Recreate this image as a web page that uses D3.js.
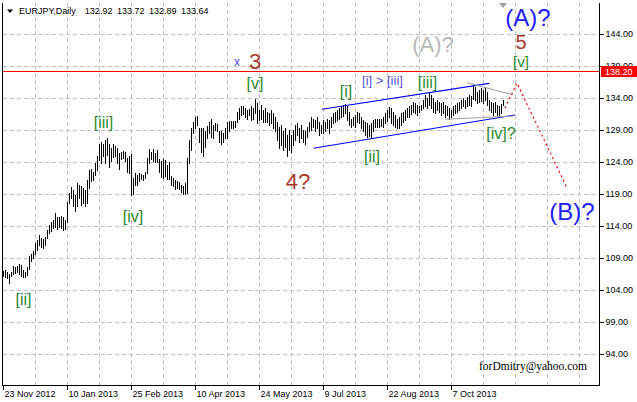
<!DOCTYPE html>
<html><head><meta charset="utf-8">
<script src="https://cdn.jsdelivr.net/npm/d3@7/dist/d3.min.js"></script>
<style>
body{margin:0;background:#fff}
svg{display:block}
text{font-family:"Liberation Sans",Arial,sans-serif}
</style>
</head><body>
<svg id="chart" width="637" height="402"></svg>
<script>
// ---------- DATA ----------
const symbolTitle = "EURJPY,Daily";
const lastOHLC = [132.92, 133.72, 132.89, 133.64];
const resistanceLevel = 138.20;

const barHighs = [
107.0,107.2,106.9,106.6,106.9,107.8,107.7,107.8,108.1,108.0,
107.2,106.9,107.7,109.3,109.7,110.1,111.4,111.9,112.6,112.1,
112.0,112.3,113.4,114.2,114.7,114.9,116.0,115.4,115.5,115.6,
115.4,115.0,117.8,119.2,120.1,119.7,118.8,120.7,120.4,120.2,
119.9,119.7,121.2,122.8,122.9,122.5,123.8,124.9,126.9,127.2,
126.9,127.5,127.7,126.9,126.2,126.9,126.5,126.2,125.4,125.6,
125.8,125.6,124.6,124.9,125.2,121.5,122.3,122.0,122.3,122.1,
122.0,122.4,124.7,126.1,125.6,126.1,125.4,125.9,124.5,124.2,
124.5,124.3,123.6,124.0,121.9,121.6,121.2,121.1,120.9,120.4,
120.2,120.7,124.7,127.5,129.4,130.3,131.1,131.2,129.4,129.3,
129.4,128.8,129.7,130.3,130.7,129.8,130.1,129.9,128.8,128.8,
128.5,129.4,130.3,130.4,130.5,130.4,130.4,131.8,132.4,132.7,
132.8,132.4,132.1,132.3,132.7,132.4,133.9,133.2,132.1,132.9,
132.1,132.4,131.9,131.6,132.1,131.6,131.1,130.3,129.5,129.8,
128.8,129.3,128.2,129.0,128.2,129.0,129.8,130.1,129.3,129.8,
129.0,128.8,129.5,130.3,131.1,130.8,130.6,131.1,130.3,129.8,
130.6,130.3,130.8,130.6,131.1,131.6,131.9,132.1,132.4,132.7,
132.9,133.1,132.7,131.9,130.8,131.1,131.4,131.9,131.6,131.1,
130.6,130.3,130.1,129.8,130.1,130.6,130.8,130.7,130.8,130.7,
131.1,131.6,132.2,132.6,132.4,131.9,131.4,130.8,131.1,131.6,
131.9,132.1,132.4,132.7,132.9,133.4,133.2,132.9,132.7,132.9,
133.7,134.5,134.0,135.0,134.5,134.0,133.4,133.7,133.4,133.2,
133.4,132.9,132.7,132.4,132.1,132.7,132.9,133.2,133.4,133.7,
134.0,133.7,134.2,134.5,134.4,136.0,135.8,135.0,135.3,135.5,
135.3,135.8,135.0,133.7,133.4,133.2,133.4,132.9,132.7,133.1,
133.72];

const barLows = [
106.3,106.1,105.9,105.2,106.2,106.6,106.7,106.9,106.6,106.3,
106.1,106.0,106.4,107.3,108.6,109.0,109.7,110.3,111.1,110.7,
110.6,111.1,112.1,112.9,113.2,113.7,113.9,113.5,113.8,113.7,
113.4,113.5,114.7,117.6,118.4,117.2,116.4,117.1,118.4,117.3,
117.6,117.2,117.7,119.9,121.0,121.2,122.0,122.8,124.3,123.8,
124.9,123.9,125.1,123.3,124.2,124.8,124.9,123.8,123.0,124.5,
124.6,124.2,122.5,122.3,118.8,119.0,120.5,120.4,121.0,121.4,
121.2,121.6,122.3,123.8,124.5,124.2,124.0,124.1,122.5,121.7,
121.5,121.9,121.4,121.4,120.4,120.2,119.8,119.9,119.8,119.4,
119.1,119.0,119.2,123.8,125.9,128.5,129.4,129.8,127.2,125.6,
124.9,126.4,127.7,128.5,128.0,127.8,129.0,128.8,127.2,126.9,
127.1,127.7,127.8,128.9,129.4,129.3,129.5,130.3,130.8,131.4,
131.5,131.1,130.8,131.4,130.6,130.8,131.6,130.1,130.6,130.8,
130.2,130.3,130.2,129.8,130.1,129.3,128.8,127.5,126.2,126.7,
125.9,126.4,124.9,125.9,125.6,126.7,127.5,128.2,127.2,127.7,
127.2,126.9,128.0,128.8,129.0,129.5,128.8,129.3,128.2,128.5,
128.5,128.8,129.3,128.5,129.5,130.1,130.3,130.6,130.8,131.1,
131.2,131.6,130.6,129.8,129.5,129.8,129.5,130.3,130.1,129.3,
128.8,128.2,128.0,128.1,127.7,128.8,129.5,129.5,129.5,129.6,
129.5,130.1,130.5,131.0,130.1,129.8,129.5,129.3,129.4,129.8,
130.3,130.6,131.0,131.1,131.5,131.9,131.6,131.4,131.9,132.1,
132.4,132.7,132.4,132.9,132.4,131.9,131.6,132.1,131.9,131.4,
131.6,131.1,131.4,130.8,131.1,131.4,131.6,131.9,132.1,132.4,
132.7,132.4,132.7,132.9,132.7,133.9,133.7,133.2,133.4,133.5,
133.2,133.7,132.9,132.1,131.9,131.4,131.9,131.3,131.0,131.6,
132.89];

// price axis ticks and date axis ticks (bar index of each date label)
const priceTicks = [144, 139, 134, 129, 124, 119, 114, 109, 104, 99, 94];
const dateTickIndex = [0, 32, 64, 96, 128, 160, 192, 224];
const dateTickLabels = ["23 Nov 2012","10 Jan 2013","25 Feb 2013","10 Apr 2013",
                        "24 May 2013","9 Jul 2013","22 Aug 2013","7 Oct 2013"];

// analysis lines, in (bar index, price)
const channelUpper = [[159.4, 132.25], [243.2, 136.3]];
const channelLower = [[155.2, 126.16], [256, 131.36]];
const triangleUpper = [[231.9, 136.4], [255.2, 134.5]];
const triangleLower = [[221, 130.69], [255.2, 131.2]];
const forecastPath = [[251, 132.45], [257, 136.35], [282, 119.97]];

// wave labels: text, bar index, price (baseline), kind
const waveLabels = [
  ["[ii]", 10.25, 101.72, "minor"],
  ["[iii]", 50.25, 129.33, "minor"],
  ["[iv]", 65, 114.67, "minor"],
  ["[v]", 126, 135.42, "minor"],
  ["3", 126, 138.54, "inter"],
  ["4?", 147.5, 119.8, "inter"],
  ["[i]", 171.5, 134.17, "minor"],
  ["[ii]", 184.5, 124.03, "minor"],
  ["[iii]", 212.25, 135.57, "minor"],
  ["[iv]?", 249, 127.62, "minor"],
  ["5", 259, 141.6, "five"],
  ["[v]", 259, 138.9, "small"],
  ["(A)?", 215, 141.19, "altA"],
  ["(A)?", 262.5, 145.2, "primary"],
  ["(B)?", 284.5, 114.98, "primary"]
];
const noteLabel = ["[i] > [iii]", 189.75, 136.04];
const crossLabel = ["x", 117, 139.0];
const watermark = "forDmitry@yahoo.com";

// ---------- LAYOUT ----------
const W = 637, H = 402;
const plot = {left: 3, right: 599, top: 3, bottom: 386};
const barCount = barHighs.length;

const x = d3.scaleLinear().domain([0, 298]).range([plot.left, plot.right]);
const y = d3.scaleLinear().domain([89.06, 148.84]).range([plot.bottom, plot.top]);

const svg = d3.select("#chart");
svg.append("rect").attr("width", W).attr("height", H).attr("fill", "#fff");

const crisp = v => Math.round(v) + 0.5;

// grid
const grid = svg.append("g").attr("stroke", "#c0c0c0").attr("stroke-dasharray", "4,3").attr("shape-rendering", "crispEdges");
grid.selectAll("line.h").data(priceTicks).join("line")
  .attr("x1", plot.left).attr("x2", plot.right)
  .attr("y1", d => crisp(y(d))).attr("y2", d => crisp(y(d)));
grid.selectAll("line.v").data(d3.range(16, 298, 16)).join("line")
  .attr("y1", plot.top).attr("y2", plot.bottom)
  .attr("x1", d => crisp(x(d))).attr("x2", d => crisp(x(d)));

// resistance level
svg.append("line")
  .attr("x1", plot.left).attr("x2", plot.right)
  .attr("y1", crisp(y(resistanceLevel))).attr("y2", crisp(y(resistanceLevel)))
  .attr("stroke", "#ff0000").attr("shape-rendering", "crispEdges");

// bars
const bars = d3.range(barCount).map(i => ({i, h: barHighs[i], l: barLows[i]}));
svg.append("g").attr("stroke", "#000").attr("shape-rendering", "crispEdges")
  .selectAll("line").data(bars).join("line")
  .attr("x1", d => crisp(x(d.i))).attr("x2", d => crisp(x(d.i)))
  .attr("y1", d => Math.round(y(d.h))).attr("y2", d => Math.round(y(d.l)) + 1);

// analysis lines
const line = d3.line().x(d => x(d[0])).y(d => y(d[1]));
svg.append("path").attr("d", line(channelUpper)).attr("stroke", "#0000ff").attr("stroke-width", 1.1).attr("fill", "none");
svg.append("path").attr("d", line(channelLower)).attr("stroke", "#0000ff").attr("stroke-width", 1.1).attr("fill", "none");
svg.append("path").attr("d", line(triangleUpper)).attr("stroke", "#a0a0a0").attr("fill", "none");
svg.append("path").attr("d", line(triangleLower)).attr("stroke", "#a0a0a0").attr("fill", "none");
svg.append("path").attr("d", line(forecastPath)).attr("stroke", "#ff0000").attr("stroke-width", 1.2).attr("stroke-dasharray", "2,3").attr("fill", "none");

// labels
const styles = {
  minor:   {size: 16, color: "#2a8a30"},
  small:   {size: 15, color: "#2a8a30"},
  inter:   {size: 22, color: "#a83a2c"},
  five:    {size: 20, color: "#a83a2c"},
  altA:    {size: 22, color: "#b8b8b8"},
  primary: {size: 24, color: "#2020ff"}
};
svg.append("g").selectAll("text").data(waveLabels).join("text")
  .attr("x", d => x(d[1])).attr("y", d => y(d[2]))
  .attr("text-anchor", "middle")
  .attr("font-size", d => styles[d[3]].size)
  .attr("fill", d => styles[d[3]].color)
  .text(d => d[0]);

svg.append("text").attr("x", x(noteLabel[1])).attr("y", y(noteLabel[2]))
  .attr("text-anchor", "middle").attr("font-size", 13).attr("fill", "#5a50e0")
  .style("white-space", "pre").text(noteLabel[0]);
svg.append("text").attr("x", x(crossLabel[1])).attr("y", y(crossLabel[2]))
  .attr("text-anchor", "middle").attr("font-size", 12).attr("fill", "#5a50e0").text(crossLabel[0]);

svg.append("text").attr("x", 587).attr("y", 370)
  .attr("text-anchor", "end").attr("font-size", 11.5)
  .style("font-family", "'Liberation Serif','Times New Roman',serif")
  .attr("fill", "#000").text(watermark);

// shift marker at last bar
const lx = x(barCount - 1);
svg.append("path").attr("d", `M${lx - 4},3 L${lx + 4},3 L${lx},8 Z`).attr("fill", "#a0a0a0");

// axes
const yAxis = d3.axisRight(y).tickValues(priceTicks).tickSize(4).tickSizeOuter(0).tickPadding(2)
  .tickFormat(d => d.toFixed(2));
const gy = svg.append("g").attr("transform", `translate(${plot.right + 0.5},0)`).call(yAxis);
gy.select(".domain").remove();
gy.selectAll(".tick line").attr("stroke", "#000").attr("shape-rendering", "crispEdges");
gy.selectAll(".tick").attr("transform", d => `translate(0,${crisp(y(d))})`);
gy.selectAll(".tick text").attr("font-size", 9).attr("font-family", "'Liberation Sans',Arial,sans-serif").attr("fill", "#000");

const xAxis = d3.axisBottom(x).tickValues(dateTickIndex).tickSize(4).tickSizeOuter(0)
  .tickFormat((d, i) => dateTickLabels[i]);
const gx = svg.append("g").attr("transform", `translate(0,${plot.bottom - 0.5})`).call(xAxis);
gx.select(".domain").remove();
gx.selectAll(".tick").attr("transform", d => `translate(${crisp(x(d))},0)`);
gx.selectAll(".tick line").attr("stroke", "#000").attr("shape-rendering", "crispEdges");
gx.selectAll(".tick text").attr("text-anchor", "start").attr("x", 1).attr("y", 11.5).attr("dy", 0)
  .attr("font-size", 9).attr("font-family", "'Liberation Sans',Arial,sans-serif").attr("fill", "#000");

// frame
const frame = svg.append("g").attr("stroke", "#000").attr("shape-rendering", "crispEdges");
frame.append("line").attr("x1", 2.5).attr("x2", 2.5).attr("y1", plot.top).attr("y2", plot.bottom);
frame.append("line").attr("x1", plot.right + 0.5).attr("x2", plot.right + 0.5).attr("y1", plot.top).attr("y2", plot.bottom);
frame.append("line").attr("x1", 2).attr("x2", plot.right + 1).attr("y1", plot.bottom - 0.5).attr("y2", plot.bottom - 0.5);

// price tag for level
const ty = y(resistanceLevel);
svg.append("rect").attr("x", plot.right + 2).attr("y", Math.round(ty) - 5).attr("width", 36).attr("height", 11).attr("fill", "#ff0000");
svg.append("text").attr("x", plot.right + 6).attr("y", Math.round(ty) + 4).attr("font-size", 9).attr("fill", "#fff")
  .text(resistanceLevel.toFixed(2));

// title
const title = svg.append("text").attr("x", 19).attr("y", 14).attr("font-size", 9).attr("fill", "#000");
title.append("tspan").text(symbolTitle);
lastOHLC.forEach((v, k) => title.append("tspan").attr("dx", k === 0 ? 9 : 4.5).text(v.toFixed(2)));
svg.append("path").attr("d", "M7,9.5 L13,9.5 L10,13 Z").attr("fill", "#000");
</script>
</body></html>
